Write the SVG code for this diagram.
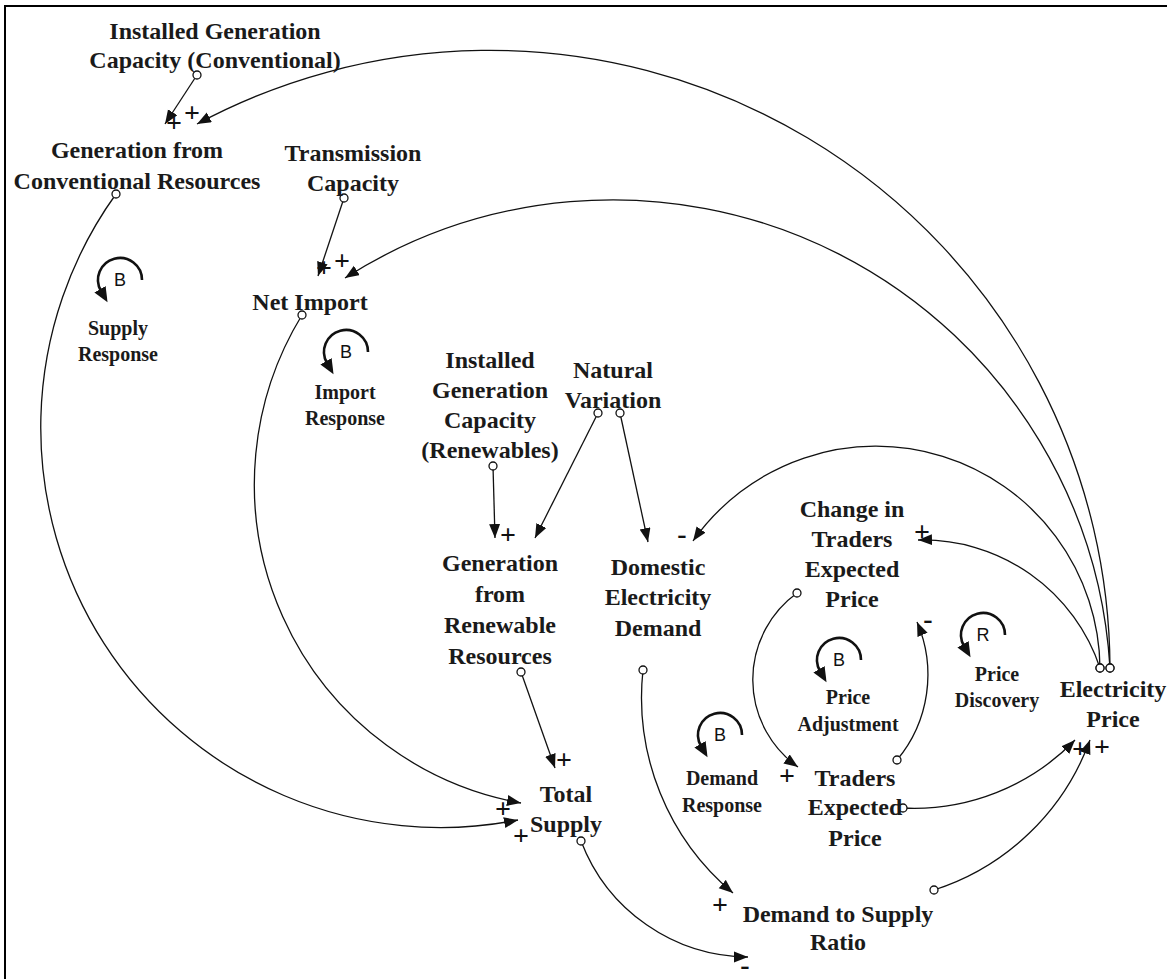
<svg xmlns="http://www.w3.org/2000/svg" width="1167" height="979" viewBox="0 0 1167 979">
<defs>
<marker id="arr" markerUnits="userSpaceOnUse" markerWidth="15" markerHeight="12" refX="14" refY="5.5" orient="auto"><path d="M0,0 L14,5.5 L0,11 z" fill="#111"/></marker>
<marker id="dot" markerUnits="userSpaceOnUse" markerWidth="12" markerHeight="12" refX="6" refY="6"><circle cx="6" cy="6" r="4" fill="#fff" stroke="#111" stroke-width="1.3"/></marker>
<marker id="larr" markerUnits="userSpaceOnUse" markerWidth="16" markerHeight="14" refX="2" refY="6.5" orient="auto"><path d="M0,0 L15,6.5 L0,13 z" fill="#111"/></marker>
</defs>
<style>
.n{font-family:"Liberation Serif","Times New Roman",serif;font-weight:bold;font-size:24px;fill:#1a1a1a;text-anchor:middle}
.l{font-family:"Liberation Serif","Times New Roman",serif;font-weight:bold;font-size:20px;fill:#1a1a1a;text-anchor:middle}
.s{font-family:"Liberation Serif","Times New Roman",serif;font-weight:bold;font-size:28px;fill:#111;text-anchor:middle}
.c{fill:none;stroke:#111;stroke-width:1.3;marker-start:url(#dot);marker-end:url(#arr)}
.la{fill:none;stroke:#111;stroke-width:2.6;marker-end:url(#larr)}
.lb{font-family:"Liberation Sans",Arial,sans-serif;font-size:18px;fill:#111;text-anchor:middle}
</style>
<rect width="1167" height="979" fill="#fff"/>
<path d="M5,979 V6 H1167" fill="none" stroke="#000" stroke-width="2"/>

<g id="connectors">
<path class="c" d="M197,75 L165,124"/>
<path class="c" d="M1110,668 A620,620 0 0,0 197,124"/>
<path class="c" d="M116,194 A400,400 0 0,0 518,820"/>
<path class="c" d="M344,198 L318,276"/>
<path class="c" d="M1110,668 A498,498 0 0,0 345,278"/>
<path class="c" d="M302,315 A324,324 0 0,0 521,803"/>
<path class="c" d="M493,466 L495,538"/>
<path class="c" d="M598,413 L535,538"/>
<path class="c" d="M620,413 L648,542"/>
<path class="c" d="M1100,668 A224,224 0 0,0 693,541"/>
<path class="c" d="M1100,668 A187,187 0 0,0 918,540"/>
<path class="c" d="M797,593 A107,107 0 0,0 798,767"/>
<path class="c" d="M897,760 A133,133 0 0,0 917,622"/>
<path class="c" d="M903,808 A224,224 0 0,0 1075,740"/>
<path class="c" d="M521,672 L555,768"/>
<path class="c" d="M643,670 A255,255 0 0,0 733,893"/>
<path class="c" d="M581,841 A180,180 0 0,0 748,957"/>
<path class="c" d="M934,890 A246,246 0 0,0 1090,740"/>
<g id="polarities">
<text class="s" x="174" y="132">+</text>
<text class="s" x="192" y="122">+</text>
<text class="s" x="324" y="277">+</text>
<text class="s" x="342" y="270">+</text>
<text class="s" x="508" y="544">+</text>
<text class="s" x="564" y="769">+</text>
<text class="s" x="503" y="818">+</text>
<text class="s" x="521" y="845">+</text>
<text class="s" x="682" y="543">-</text>
<text class="s" x="922" y="541">+</text>
<text class="s" x="787" y="785">+</text>
<text class="s" x="928" y="628">-</text>
<text class="s" x="720" y="914">+</text>
<text class="s" x="745" y="974">-</text>
<text class="s" x="1080" y="758">+</text>
<text class="s" x="1102" y="756">+</text>
</g>
</g>

<g id="installed-capacity-conventional"><text class="n"><tspan x="215" y="39">Installed Generation</tspan><tspan x="215" y="68">Capacity (Conventional)</tspan></text></g>
<g id="generation-conventional"><text class="n"><tspan x="137" y="158">Generation from</tspan><tspan x="137" y="189">Conventional Resources</tspan></text></g>
<g id="transmission-capacity"><text class="n"><tspan x="353" y="161">Transmission</tspan><tspan x="353" y="191">Capacity</tspan></text></g>
<g id="net-import"><text class="n" x="310" y="310">Net Import</text></g>
<g id="installed-capacity-renewables"><text class="n"><tspan x="490" y="368">Installed</tspan><tspan x="490" y="398">Generation</tspan><tspan x="490" y="428">Capacity</tspan><tspan x="490" y="458">(Renewables)</tspan></text></g>
<g id="natural-variation"><text class="n"><tspan x="613" y="378">Natural</tspan><tspan x="613" y="408">Variation</tspan></text></g>
<g id="generation-renewable"><text class="n"><tspan x="500" y="571">Generation</tspan><tspan x="500" y="602">from</tspan><tspan x="500" y="633">Renewable</tspan><tspan x="500" y="664">Resources</tspan></text></g>
<g id="domestic-demand"><text class="n"><tspan x="658" y="575">Domestic</tspan><tspan x="658" y="605">Electricity</tspan><tspan x="658" y="636">Demand</tspan></text></g>
<g id="change-traders-expected-price"><text class="n"><tspan x="852" y="517">Change in</tspan><tspan x="852" y="547">Traders</tspan><tspan x="852" y="577">Expected</tspan><tspan x="852" y="607">Price</tspan></text></g>
<g id="electricity-price"><text class="n"><tspan x="1113" y="697">Electricity</tspan><tspan x="1113" y="727">Price</tspan></text></g>
<g id="traders-expected-price"><text class="n"><tspan x="855" y="786">Traders</tspan><tspan x="855" y="815">Expected</tspan><tspan x="855" y="846">Price</tspan></text></g>
<g id="total-supply"><text class="n"><tspan x="566" y="802">Total</tspan><tspan x="566" y="832">Supply</tspan></text></g>
<g id="demand-supply-ratio"><text class="n"><tspan x="838" y="922">Demand to Supply</tspan><tspan x="838" y="950">Ratio</tspan></text></g>

<g id="loop-supply-response"><g transform="translate(120,280)"><path class="la" d="M22,0 A22,22 0 1,0 -19,11"/><text class="lb" x="0" y="6">B</text></g><text class="l"><tspan x="118" y="335">Supply</tspan><tspan x="118" y="361">Response</tspan></text></g>
<g id="loop-import-response"><g transform="translate(346,352)"><path class="la" d="M22,0 A22,22 0 1,0 -19,11"/><text class="lb" x="0" y="6">B</text></g><text class="l"><tspan x="345" y="399">Import</tspan><tspan x="345" y="425">Response</tspan></text></g>
<g id="loop-price-discovery"><g transform="translate(983,635)"><path class="la" d="M22,0 A22,22 0 1,0 -19,11"/><text class="lb" x="0" y="6">R</text></g><text class="l"><tspan x="997" y="681">Price</tspan><tspan x="997" y="707">Discovery</tspan></text></g>
<g id="loop-price-adjustment"><g transform="translate(839,660)"><path class="la" d="M22,0 A22,22 0 1,0 -19,11"/><text class="lb" x="0" y="6">B</text></g><text class="l"><tspan x="848" y="704">Price</tspan><tspan x="848" y="731">Adjustment</tspan></text></g>
<g id="loop-demand-response"><g transform="translate(720,735)"><path class="la" d="M22,0 A22,22 0 1,0 -19,11"/><text class="lb" x="0" y="6">B</text></g><text class="l"><tspan x="722" y="785">Demand</tspan><tspan x="722" y="812">Response</tspan></text></g>
</svg>
